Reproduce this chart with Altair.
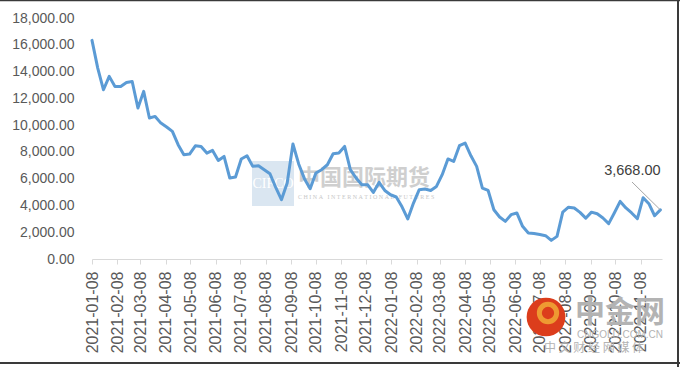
import altair as alt
import pandas as pd

# ---- data (weekly) ----
start_date = "2021-01-08"
values = [
    16330, 14260, 12640, 13640, 12890, 12890, 13190, 13260, 11280, 12520,
    10530, 10650, 10150, 9860, 9530, 8540, 7790, 7840, 8450, 8410,
    7910, 8110, 7360, 7660, 6050, 6120, 7470, 7710, 6920, 6970,
    6670, 6370, 5350, 4430, 5680, 8590, 7100, 6000, 5250, 6420,
    6670, 7040, 7860, 7910, 8410, 6670, 6050, 5550, 5550, 4970,
    5720, 5120, 4800, 4630, 3900, 2990, 4180, 5180, 5230, 5120,
    5420, 6300, 7470, 7290, 8460, 8660, 7710, 6920, 5300, 5120,
    3680, 3140, 2810, 3310, 3440, 2440, 1940, 1900, 1830, 1740,
    1390, 1690, 3500, 3870, 3810, 3480, 3050, 3500, 3380, 3060,
    2640, 3450, 4300, 3810, 3440, 3010, 4580, 4130, 3230, 3668,
]
tick_months = [(2021, m) for m in range(1, 13)] + [(2022, m) for m in range(1, 12)]
y_ticks = [0, 2000, 4000, 6000, 8000, 10000, 12000, 14000, 16000, 18000]
last_label = "3,668.00"

dates = pd.date_range(start_date, periods=len(values), freq="7D")
df = pd.DataFrame({"date": dates.strftime("%Y/%m/%d"), "value": values})
last = df.tail(1)

W, H = 570, 241
x_scale = alt.Scale(domain=[alt.DateTime(year=2021, month=1, date=8),
                            alt.DateTime(year=2022, month=12, date=4)], nice=False)
y_scale = alt.Scale(domain=[0, 18000], nice=False)

x_axis = alt.Axis(
    values=[alt.DateTime(year=y, month=m, date=8) for (y, m) in tick_months],
    tickCount=60,
    format="%Y-%m-%d", labelAngle=-90, labelPadding=7, tickSize=5,
    tickColor="#d9d9d9", domainColor="#d9d9d9", grid=False,
    labelColor="#595959", labelFont="Liberation Sans", labelFontSize=16,
    labelOverlap=False, title=None,
)
y_axis = alt.Axis(
    values=y_ticks, tickCount=30, format=",.2f", grid=False, domain=False, ticks=False,
    labelPadding=18, labelColor="#595959", labelFont="Liberation Sans",
    labelFontSize=14, labelOverlap=False, title=None,
)

one = alt.Data(values=[{"a": 1}])
NB = "\u00a0"

# watermark (CIFCO)
wm_rect = alt.Chart(one).mark_rect(color="#d6e3f0", opacity=0.9).encode(
    x=alt.value(160), x2=alt.value(202), y=alt.value(143), y2=alt.value(188))
wm_cifco = alt.Chart(one).mark_text(text="CIFCO", font="Liberation Serif", fontSize=14,
                                    color="#ffffff").encode(x=alt.value(181), y=alt.value(166))
wm_cn = alt.Chart(one).mark_text(text="中国国际期货", font="Noto Sans CJK SC", fontSize=22,
                                 fontWeight="bold", color="#cfcfcf", align="left").encode(
    x=alt.value(206), y=alt.value(160))
wm_en_text = (NB * 3).join(NB.join(list(w)) for w in ["CHINA", "INTERNATIONAL", "FUTURES"])
wm_en = alt.Chart(one).mark_text(text=wm_en_text,
                                 font="Liberation Serif", fontSize=6, color="#c8c8c8",
                                 align="left").encode(x=alt.value(206), y=alt.value(179))

line = alt.Chart(df).mark_line(color="#5B9BD5", strokeWidth=3, strokeJoin="round",
                               strokeCap="round").encode(
    x=alt.X("date:T", scale=x_scale, axis=x_axis),
    y=alt.Y("value:Q", scale=y_scale, axis=y_axis),
)

leader = alt.Chart(last).mark_rule(color="#a6a6a6", strokeWidth=1).encode(
    x="date:T", y="value:Q", x2=alt.value(540), y2=alt.value(164))
label = alt.Chart(last).mark_text(text=last_label, font="Liberation Sans", fontSize=14.5,
                                  color="#404040", dx=-28, dy=-39).encode(
    x="date:T", y="value:Q")

# watermark (中金网)
logo = alt.Chart(one).mark_point(shape="circle", filled=True, size=1500, color="#dc3d1c",
                                 opacity=1).encode(x=alt.value(454), y=alt.value(299))
logo_in = alt.Chart(one).mark_point(shape="circle", filled=False, size=300, color="#f7c23c",
                                    strokeWidth=5).encode(x=alt.value(456), y=alt.value(295))
zj = alt.Chart(one).mark_text(text="中金网", font="Noto Sans CJK SC", fontSize=30,
                              fontWeight="bold", color="#b3b3b3").encode(
    x=alt.value(528), y=alt.value(295))
zj_en = alt.Chart(one).mark_text(text="CNGOLD.COM.CN", font="Liberation Sans", fontSize=10,
                                 color="#b3b3b3").encode(x=alt.value(528), y=alt.value(317))
zj_cn = alt.Chart(one).mark_text(text=NB.join(list("中文财经网媒体")), font="Noto Sans CJK SC",
                                 fontSize=12, color="#b3b3b3").encode(
    x=alt.value(502), y=alt.value(330))

# outer frame (top, right, bottom)
frame_top = alt.Chart(one).mark_rule(color="#3a3a3a", strokeWidth=1.5).encode(
    x=alt.value(-92), x2=alt.value(588), y=alt.value(-17.5))
frame_right = alt.Chart(one).mark_rule(color="#3a3a3a", strokeWidth=2).encode(
    x=alt.value(586), y=alt.value(-18), y2=alt.value(349))
frame_bottom = alt.Chart(one).mark_rule(color="#3a3a3a", strokeWidth=2).encode(
    x=alt.value(-92), x2=alt.value(588), y=alt.value(345))

chart = alt.layer(
    wm_rect, wm_cifco, wm_cn, wm_en, line, leader, label,
    logo, logo_in, zj, zj_en, zj_cn, frame_top, frame_right, frame_bottom,
).properties(
    width=W, height=H,
    padding={"left": 92, "top": 18, "right": 18, "bottom": 108},
    autosize=alt.AutoSizeParams(type="none"),
    background="white",
).configure_view(stroke=None)

chart.save("out.html", embed_options={"renderer": "svg", "actions": False})
